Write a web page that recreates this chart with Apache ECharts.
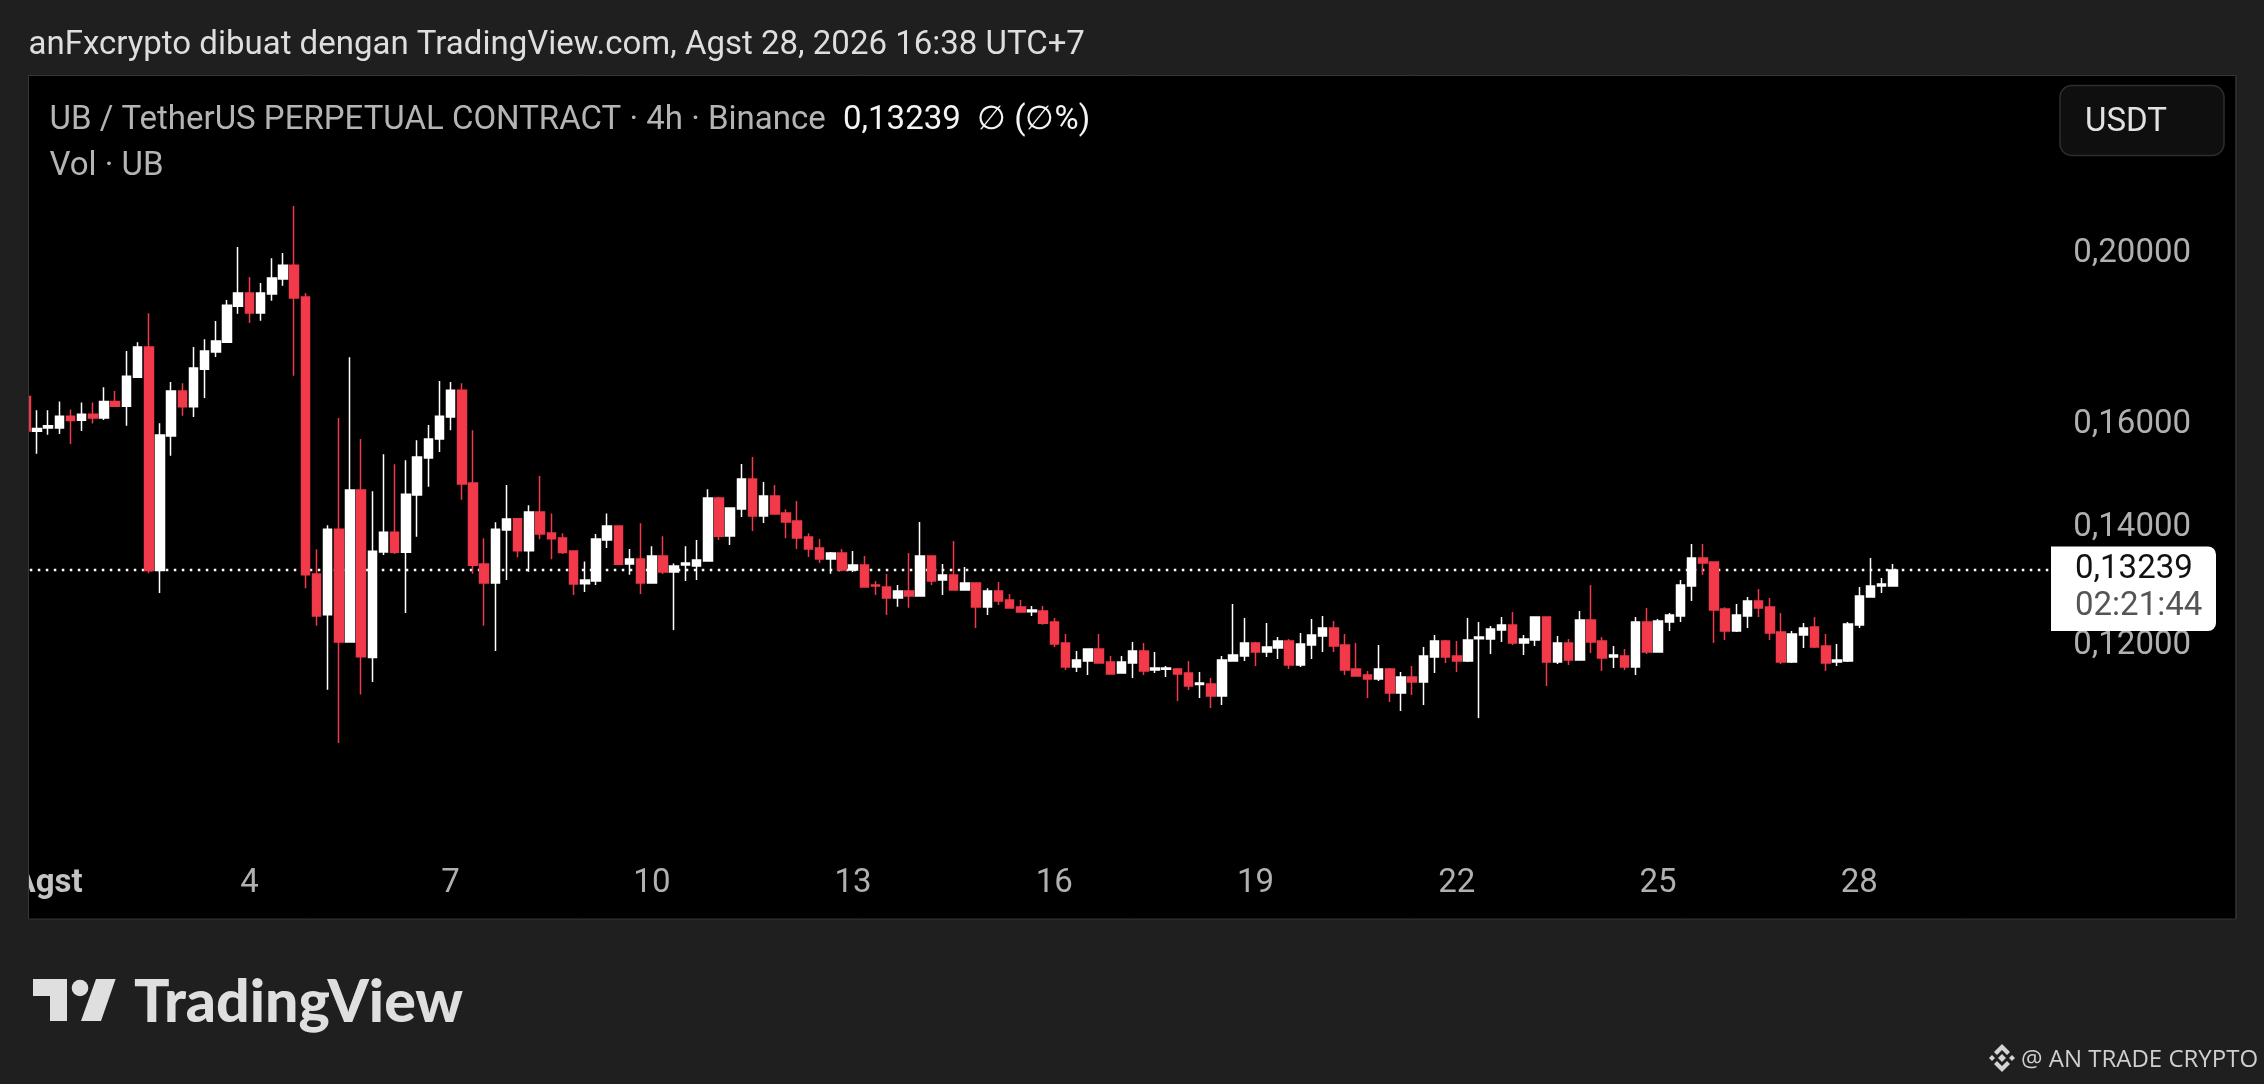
<!DOCTYPE html>
<html><head><meta charset="utf-8">
<style>html,body{margin:0;padding:0;background:#1f1f1f}#c{width:2264px;height:1084px}</style>
<script src="https://cdn.jsdelivr.net/npm/echarts@6/dist/echarts.min.js"></script>
</head><body><div id="c"></div>
<script>
const opens=[.16607,.15868,.15938,.15938,.16185,.16101,.16225,.16147,.165,.16398,
.17029,.17716,.13232,.1577,.16727,.16384,.1721,.17598,.17827,.18683,
.19011,.18522,.18983,.19363,.19714,.18911,.1317,.12487,.13962,.12053,
.14696,.11809,.13556,.1391,.1355,.14604,.15326,.15709,.1617,.16742,
.14832,.13344,.13019,.13949,.14156,.13577,.14282,.13894,.13804,.13571,
.13005,.13051,.13768,.14023,.13344,.13431,.13017,.13484,.13205,.13326,
.13308,.13396,.14544,.13841,.14337,.14909,.14207,.14583,.14262,.14113,
.13822,.13624,.13431,.13536,.13239,.13326,.12983,.1295,.12764,.12881,
.12798,.13484,.13068,.13153,.12898,.13017,.12615,.12881,.12731,.12615,
.12538,.1255,.12371,.12037,.11666,.11758,.11944,.11743,.11575,.11727,
.11912,.1162,.11631,.11635,.11575,.114,.1141,.11233,.11758,.11835,
.12037,.11897,.11959,.12068,.11697,.12006,.12147,.12276,.12006,.11635,
.11545,.11485,.11635,.11277,.11515,.1144,.1182,.12068,.11835,.11758,
.12105,.121,.12243,.12324,.12037,.12084,.12452,.11743,.12037,.11773,
.12403,.12068,.1182,.11835,.11666,.12371,.11897,.12371,.12467,.12966,
.13448,.13378,.12582,.12227,.12467,.12714,.12615,.12211,.11743,.12163,
.12292,.1199,.11743,.11758,.12324,.12781,.12966,.12966];
const closes=[.15877,.15929,.15983,.16185,.16092,.16225,.16147,.165,.16398,.17054,
.17716,.13232,.15792,.16727,.16384,.17235,.17622,.17853,.18711,.19011,
.18522,.19011,.19384,.19714,.18884,.13158,.1247,.13962,.12053,.14696,
.11821,.1357,.1391,.1355,.14619,.15343,.15709,.16185,.16742,.14816,
.13323,.13019,.13962,.14151,.13577,.14282,.13876,.13792,.13548,.13,
.13068,.13786,.14023,.13339,.13431,.13017,.13484,.13205,.13308,.1336,
.13413,.14544,.13835,.14356,.14909,.14207,.14583,.14243,.14095,.13804,
.13607,.13431,.13536,.13239,.13326,.1295,.12966,.12764,.12881,.12798,
.13484,.13051,.13153,.12898,.13017,.12615,.12881,.12714,.12599,.12533,
.12566,.12349,.12022,.11666,.11773,.11944,.11727,.1156,.11743,.11912,
.11605,.11651,.11651,.1156,.1138,.11425,.11233,.11773,.1185,.12037,
.11897,.11975,.12068,.11697,.12022,.12163,.12276,.1199,.1162,.1153,
.11485,.11635,.11277,.11515,.1144,.11835,.12068,.1182,.11758,.12084,
.12132,.12259,.12324,.12037,.121,.12452,.11743,.12037,.11773,.12403,
.12053,.11804,.1185,.11666,.12371,.11897,.12387,.12484,.12983,.13448,
.1336,.12566,.12227,.12484,.12714,.12599,.12195,.11743,.12179,.12276,
.11975,.11727,.11773,.12339,.12798,.12966,.13,.13239];
const lows=[.15877,.15408,.15799,.15815,.15609,.15875,.16029,.16107,.16398,.15983,
.17029,.13184,.1285,.1537,.16193,.1617,.16575,.17486,.17811,.18503,
.18282,.18335,.18819,.19188,.17063,.1293,.12309,.11322,.10564,.12053,
.11252,.1144,.13504,.13518,.12519,.13828,.1476,.15448,.15892,.14512,
.13176,.12309,.11912,.13068,.13461,.1321,.13781,.13426,.13518,.12815,
.12864,.12983,.13624,.1333,.13158,.12832,.13005,.1317,.12243,.13051,
.13068,.13396,.13768,.13678,.14188,.1393,.14076,.14243,.13799,.13607,
.13466,.1336,.13176,.13217,.13205,.1295,.12815,.12484,.1262,.12604,
.12798,.12983,.12815,.12886,.12898,.12276,.12484,.12648,.12599,.12522,
.12467,.12327,.11975,.1162,.1159,.11545,.11727,.1156,.11575,.115,
.11545,.11575,.11515,.1116,.11321,.11203,.11058,.11102,.11758,.11758,
.11681,.1182,.11789,.11635,.11666,.11789,.11897,.11897,.11545,.1153,
.11203,.11455,.11145,.11015,.11247,.11102,.11575,.11727,.1159,.11743,
.10915,.11866,.12053,.12006,.1185,.1199,.1138,.11712,.11697,.11773,
.11881,.11605,.11651,.1162,.11545,.11866,.11897,.12227,.12371,.12714,
.13153,.12037,.12084,.12211,.12276,.12452,.12084,.11712,.11727,.11959,
.11959,.11605,.11681,.11743,.12276,.12781,.12848,.12966];
const highs=[.16607,.16311,.16311,.165,.16328,.16477,.16477,.16808,.16727,.17622,
.17828,.18514,.16038,.16922,.16898,.17716,.17897,.18327,.18836,.20185,
.19412,.19261,.19894,.2003,.21298,.19011,.13602,.14038,.16147,.17479,
.15709,.14673,.154,.15201,.15282,.15686,.15999,.16946,.16922,.16898,
.15892,.13801,.14091,.14793,.1417,.14407,.14969,.14256,.13889,.13571,
.1339,.13876,.14256,.14023,.13607,.14073,.13659,.13835,.13355,.13659,
.13768,.1471,.14569,.1437,.15204,.15344,.1485,.14793,.14331,.14487,
.13889,.13786,.13554,.13607,.13571,.13484,.13051,.1317,.12983,.13536,
.14095,.13498,.13344,.1375,.13291,.13029,.12927,.13034,.12832,.12731,
.12632,.12632,.12436,.12179,.11912,.11944,.12179,.11835,.11835,.12053,
.12037,.11897,.11681,.1165,.11758,.1159,.115,.11835,.12665,.12436,
.12053,.12354,.12132,.121,.12195,.1242,.12467,.12387,.12179,.12037,
.11605,.12006,.1165,.1159,.11681,.11975,.12163,.12084,.12068,.12436,
.12371,.12308,.12452,.12533,.12163,.12452,.12463,.12147,.121,.1255,
.12983,.12132,.1199,.11944,.12452,.12599,.1242,.12517,.13068,.13696,
.13696,.13378,.1261,.12665,.12781,.12915,.12764,.12517,.12227,.12354,
.12452,.12179,.12022,.12371,.1295,.13448,.13102,.13344];
const xTickLabels=['Agst','4','7','10','13','16','19','22','25','28'];
const xTickIndex=[2,20,38,56,74,92,110,128,146,164];
const priceTicks=[0.12,0.14,0.16,0.2];
const lastPrice=0.13239;
const emptySlots=31;
const priceLineSlots=182;

const categories=[];
for(let i=0;i<opens.length+emptySlots;i++){categories.push(String(i));}
const labelAt={};
xTickIndex.forEach((idx,k)=>{labelAt[idx]=xTickLabels[k];});
const ohlc=opens.map((o,i)=>[o,closes[i],lows[i],highs[i]]);
const priceLine=[];
for(let i=0;i<priceLineSlots;i++){priceLine.push(lastPrice);}

const FONT='Roboto';
const BG='#1f1f1f';
const chart=echarts.init(document.getElementById('c'),null,{renderer:'canvas'});
function text(x,y,s,size,fill,extra){
  return {type:'text',z:50,silent:true,style:Object.assign({x,y,text:s,fontFamily:FONT,fontSize:size,fill,verticalAlign:'middle'},extra||{})};
}
const graphics=[
  {type:'rect',z:-5,silent:true,shape:{x:28.5,y:75.5,width:2207.5,height:843.5},style:{fill:'#000',stroke:'#363636',lineWidth:1}},
  {type:'rect',z:40,silent:true,shape:{x:0,y:70,width:28,height:860},style:{fill:BG}},
  {type:'rect',z:40,silent:true,shape:{x:2236.5,y:70,width:28,height:860},style:{fill:BG}},
  {type:'line',z:41,silent:true,shape:{x1:28.5,y1:75,x2:28.5,y2:919},style:{stroke:'#363636',lineWidth:1}},
  {type:'line',z:41,silent:true,shape:{x1:2236,y1:75,x2:2236,y2:919},style:{stroke:'#363636',lineWidth:1}},
  text(28.5,46,'anFxcrypto dibuat dengan TradingView.com, Agst 28, 2026 16:38 UTC+7',33,'#dedede'),
  text(49.5,121,'UB / TetherUS PERPETUAL CONTRACT · 4h · Binance',33,'#b4b4b4'),
  text(843,121,'0,13239',33,'#f4f4f4'),
  text(977,121,'∅ (∅%)',33,'#f4f4f4'),
  text(49.5,167,'Vol · UB',33,'#b4b4b4'),
  {type:'rect',z:30,silent:true,shape:{x:2060,y:85.5,width:164,height:70,r:12},style:{fill:'#0f0f0f',stroke:'#2e2e2e',lineWidth:1.5}},
  text(2085,123,'USDT',33,'#e2e2e2'),
  {type:'rect',z:30,silent:true,shape:{x:2051,y:546.5,width:165,height:84.5,r:[0,8,8,0]},style:{fill:'#fff'}},
  text(2075,570,'0,13239',33,'#111'),
  text(2075,607,'02:21:44',33,'#555'),
  {type:'polygon',z:30,silent:true,shape:{points:[[33,979],[67,979],[67,1021],[50,1021],[50,996],[33,996]]},style:{fill:'#dfdfdf'}},
  {type:'circle',z:30,silent:true,shape:{cx:80,cy:988,r:8.3},style:{fill:'#dfdfdf'}},
  {type:'polygon',z:30,silent:true,shape:{points:[[96,979],[115.6,979],[101,1021],[81,1021]]},style:{fill:'#dfdfdf'}},
  text(134,1003,'TradingView',59,'#dfdfdf',{fontFamily:'Lato',fontWeight:900}),
  {type:'polygon',z:30,silent:true,shape:{points:[[2002,1044],[2010,1052],[2007,1055],[2002,1050],[1997,1055],[1994,1052]]},style:{fill:'#d4d4d4'}},
  {type:'polygon',z:30,silent:true,shape:{points:[[2002,1072],[2010,1064],[2007,1061],[2002,1066],[1997,1061],[1994,1064]]},style:{fill:'#d4d4d4'}},
  {type:'polygon',z:30,silent:true,shape:{points:[[2002,1054],[2006,1058],[2002,1062],[1998,1058]]},style:{fill:'#d4d4d4'}},
  {type:'polygon',z:30,silent:true,shape:{points:[[1992,1055],[1995,1058],[1992,1061],[1989,1058]]},style:{fill:'#d4d4d4'}},
  {type:'polygon',z:30,silent:true,shape:{points:[[2012,1055],[2015,1058],[2012,1061],[2009,1058]]},style:{fill:'#d4d4d4'}},
  text(2021,1060,'@ AN TRADE CRYPTO',24,'#cfcfcf',{fontFamily:'Open Sans'})
];
chart.setOption({
  animation:false,
  backgroundColor:BG,
  grid:{left:20.21,top:75,width:11.18*categories.length,height:843,containLabel:false},
  xAxis:{type:'category',data:categories,boundaryGap:true,
    axisLine:{show:false},axisTick:{show:false},splitLine:{show:false},
    axisLabel:{inside:true,margin:18,interval:(i)=>labelAt[i]!==undefined,hideOverlap:false,
      fontFamily:FONT,fontSize:33,color:'#b0b0b0',
      formatter:(v,i)=>{const s=labelAt[i];return s==='Agst'?'{b|Agst}':(s||'');},
      rich:{b:{fontFamily:FONT,fontSize:33,fontWeight:700,color:'#c4c4c4'}}}},
  yAxis:{type:'log',logBase:10,position:'right',min:0.08405,max:0.2527,
    axisLine:{show:false},axisTick:{show:false},splitLine:{show:false},minorTick:{show:false},minorSplitLine:{show:false},
    axisLabel:{inside:true,margin:54,customValues:priceTicks,align:'right',padding:[3,0,0,0],fontFamily:FONT,fontSize:33,color:'#b0b0b0',
      formatter:(v)=>Number(v).toFixed(5).replace('.',',')}},
  graphic:{elements:graphics},
  series:[
    {type:'line',data:priceLine,showSymbol:false,silent:true,z:1,
      lineStyle:{color:'#ffffff',type:[2.5,5.5],dashOffset:4,width:2.4}},
    {type:'candlestick',data:ohlc,barWidth:9,clip:true,silent:true,z:2,
      itemStyle:{color:'#ffffff',color0:'#f23a4b',borderColor:'#ffffff',borderColor0:'#ee3a4a',borderWidth:1.5}}
  ]
});
</script></body></html>
